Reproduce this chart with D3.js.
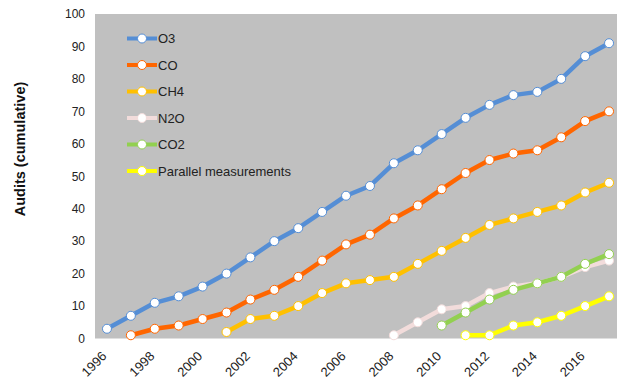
<!DOCTYPE html>
<html><head><meta charset="utf-8">
<script src="https://cdn.jsdelivr.net/npm/d3@7"></script>
<style>body{margin:0;background:#fff}svg{display:block;font-family:"Liberation Sans",Arial,sans-serif}</style>
</head><body><svg id="c" width="617" height="379"></svg>
<script>
const years = d3.range(1996, 2018).map(String);
const tickYears = ["1996","1998","2000","2002","2004","2006","2008","2010","2012","2014","2016"];
const yTicks = [0,10,20,30,40,50,60,70,80,90,100];
const o3  = [3,7,11,13,16,20,25,30,34,39,44,47,54,58,63,68,72,75,76,80,87,91];
const co  = [null,1,3,4,6,8,12,15,19,24,29,32,37,41,46,51,55,57,58,62,67,70];
const ch4 = [null,null,null,null,null,2,6,7,10,14,17,18,19,23,27,31,35,37,39,41,45,48];
const n2o = [null,null,null,null,null,null,null,null,null,null,null,null,1,5,9,10,14,16,17,19,22,24];
const co2 = [null,null,null,null,null,null,null,null,null,null,null,null,null,null,4,8,12,15,17,19,23,26];
const par = [null,null,null,null,null,null,null,null,null,null,null,null,null,null,null,1,1,4,5,7,10,13];
const seriesNames = ["O3","CO","CH4","N2O","CO2","Parallel measurements"];
const seriesVals = [o3,co,ch4,n2o,co2,par];
const colors = ["#558ED5","#FF6600","#FFC000","#F2DCDB","#92D050","#FFFF00"];

const svg = d3.select("#c");
const L = 95, T = 14, B = 338.5, R = 621;
const x = d3.scaleBand().domain(years).range([L, R]);
const y = d3.scaleLinear().domain([0,100]).range([B, T]);

svg.append("rect").attr("x",L).attr("y",T).attr("width",R-L).attr("height",B-T).attr("fill","#C0C0C0");

const yAx = svg.append("g").attr("transform",`translate(${L},0)`)
  .call(d3.axisLeft(y).tickValues(yTicks).tickSize(0).tickPadding(10));
yAx.select(".domain").remove();
yAx.selectAll("text").attr("font-size",12).attr("fill","#222").attr("font-family","Liberation Sans, Arial");

const xAx = svg.append("g").attr("transform",`translate(0,${B})`)
  .call(d3.axisBottom(x).tickValues(tickYears).tickSize(0).tickPadding(0));
xAx.select(".domain").remove();
xAx.selectAll("text").attr("font-size",13).attr("fill","#222").attr("font-family","Liberation Sans, Arial")
  .attr("text-anchor","end").attr("dy",null)
  .attr("transform","translate(0.5,18.5) rotate(-45)");

svg.append("text").attr("transform","translate(24.5,149) rotate(-90)")
  .attr("text-anchor","middle").attr("font-size",14.5).attr("font-weight","bold").attr("fill","#111")
  .text("Audits (cumulative)");

const cx = d => x(d) + x.bandwidth()/2;
seriesVals.forEach((vals, i) => {
  const pts = years.map((yr, j) => ({yr, v: vals[j]})).filter(p => p.v != null);
  svg.append("path").datum(pts)
    .attr("d", d3.line().x(p => cx(p.yr)).y(p => y(p.v)))
    .attr("fill","none").attr("stroke",colors[i]).attr("stroke-width",4.5).attr("stroke-linejoin","round");
  svg.append("g").selectAll("circle").data(pts).join("circle")
    .attr("cx", p => cx(p.yr)).attr("cy", p => y(p.v)).attr("r",4.5)
    .attr("fill","#fff").attr("stroke",colors[i]).attr("stroke-width",1);
});

const leg = svg.append("g");
const legY = d3.scaleLinear().domain([0,5]).range([38.5, 171]);
seriesNames.forEach((n, i) => {
  const g = leg.append("g").attr("transform",`translate(0,${legY(i)})`);
  g.append("line").attr("x1",127).attr("x2",157).attr("stroke",colors[i]).attr("stroke-width",4);
  g.append("circle").attr("cx",142).attr("r",4.5).attr("fill","#fff").attr("stroke",colors[i]).attr("stroke-width",1);
  g.append("text").attr("x",158).attr("dy","0.35em").attr("font-size",13).attr("fill","#222").text(n);
});
</script></body></html>
